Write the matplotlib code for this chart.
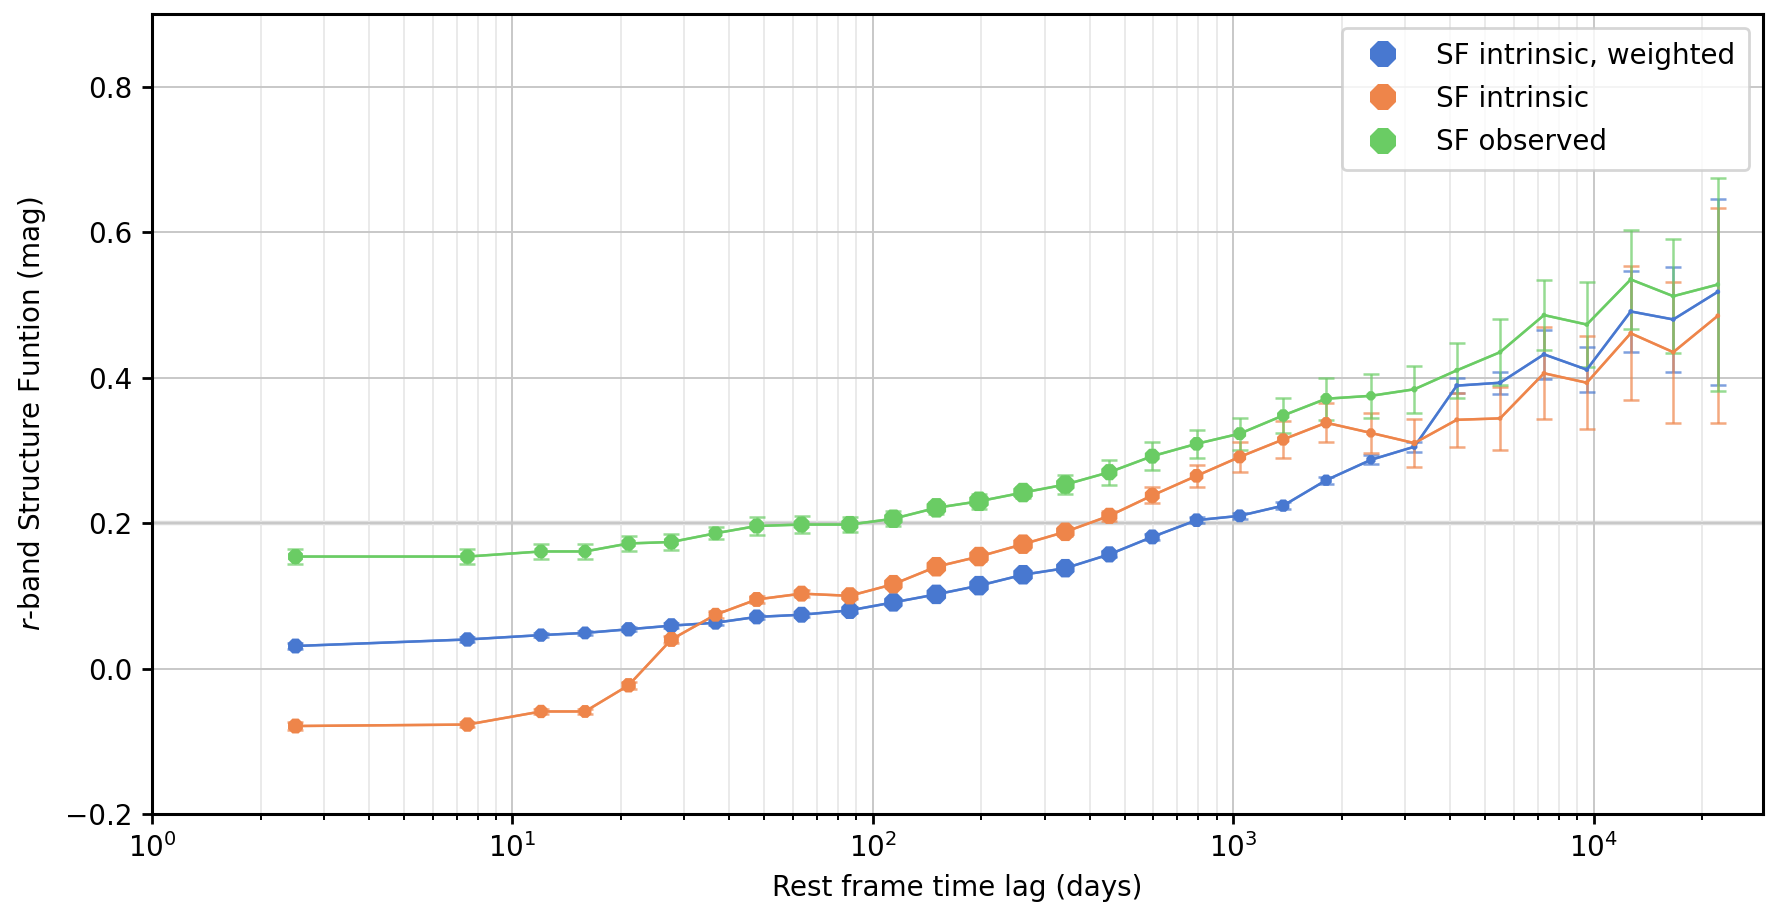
import matplotlib
matplotlib.use("Agg")
import matplotlib.pyplot as plt
from matplotlib.lines import Line2D

# rest-frame lag bins (days)
lag = [2.5, 7.5, 12.0, 15.9, 21.0, 27.6, 36.6, 47.6, 63.4, 86.3,
       114, 150, 197, 261, 342, 453, 596, 791, 1042, 1376,
       1810, 2410, 3180, 4170, 5500, 7280, 9570, 12670, 16630, 22100]

sf_weighted = [0.031, 0.040, 0.046, 0.049, 0.054, 0.059, 0.063, 0.071, 0.074, 0.080,
               0.091, 0.102, 0.114, 0.129, 0.138, 0.157, 0.181, 0.204, 0.210, 0.224,
               0.259, 0.287, 0.305, 0.389, 0.393, 0.432, 0.411, 0.491, 0.480, 0.518]
err_weighted = [0.004, 0.003, 0.003, 0.003, 0.003, 0.003, 0.003, 0.003, 0.003, 0.004,
                0.004, 0.004, 0.004, 0.004, 0.004, 0.004, 0.004, 0.004, 0.004, 0.005,
                0.005, 0.006, 0.007, 0.010, 0.015, 0.034, 0.031, 0.056, 0.072, 0.128]

sf_intrinsic = [-0.079, -0.077, -0.059, -0.059, -0.023, 0.040, 0.074, 0.095, 0.103, 0.100,
                0.116, 0.140, 0.154, 0.171, 0.188, 0.210, 0.238, 0.265, 0.291, 0.315,
                0.338, 0.324, 0.310, 0.342, 0.344, 0.406, 0.393, 0.461, 0.435, 0.485]
err_intrinsic = [0.005, 0.004, 0.004, 0.004, 0.005, 0.005, 0.005, 0.005, 0.005, 0.005,
                 0.005, 0.005, 0.006, 0.006, 0.006, 0.007, 0.011, 0.015, 0.021, 0.025,
                 0.027, 0.028, 0.033, 0.037, 0.043, 0.063, 0.064, 0.092, 0.097, 0.148]

sf_observed = [0.154, 0.154, 0.161, 0.161, 0.172, 0.174, 0.186, 0.196, 0.198, 0.198,
               0.206, 0.221, 0.230, 0.242, 0.253, 0.270, 0.292, 0.309, 0.323, 0.348,
               0.371, 0.375, 0.384, 0.410, 0.435, 0.486, 0.473, 0.535, 0.512, 0.528]
err_observed = [0.010, 0.010, 0.010, 0.010, 0.010, 0.011, 0.008, 0.013, 0.012, 0.010,
                0.010, 0.008, 0.010, 0.008, 0.013, 0.017, 0.019, 0.019, 0.022, 0.024,
                0.029, 0.030, 0.032, 0.038, 0.045, 0.048, 0.059, 0.068, 0.078, 0.146]

# marker diameter per bin (points), shrinks where few pairs
marker_pt = [5.8, 5.6, 5.2, 5.0, 5.6, 5.8, 5.4, 5.8, 6.2, 6.7,
             7.2, 7.6, 7.6, 7.6, 7.2, 6.3, 5.8, 5.3, 5.0, 4.8,
             4.4, 3.6, 2.4, 1.9, 1.8, 1.8, 1.8, 1.8, 1.8, 1.8]

series = [
    ("SF intrinsic, weighted", sf_weighted, err_weighted, "#4878d0"),
    ("SF intrinsic", sf_intrinsic, err_intrinsic, "#ee854a"),
    ("SF observed", sf_observed, err_observed, "#6acc64"),
]

plt.rcParams["font.size"] = 10
fig = plt.figure(figsize=(8.83, 4.54), dpi=200)
ax = fig.add_axes([0.0861, 0.1035, 0.9122, 0.8811])

sizes = [m ** 2 for m in marker_pt]
handles = []
for label, y, err, col in series:
    ax.errorbar(lag, y, yerr=err, color=col, lw=0.9, elinewidth=0.9,
                capsize=2.8, capthick=0.9, alpha=0.7, zorder=2)
    ax.plot(lag, y, color=col, lw=0.9, zorder=3)
    ax.scatter(lag, y, s=sizes, marker="8", color=col, edgecolors="none", zorder=4)
    handles.append(Line2D([], [], marker="8", ls="none", color=col,
                          markersize=10, markeredgewidth=0, label=label))

ax.set_xscale("log")
ax.set_xlim(1, 2.95e4)
ax.set_ylim(-0.2, 0.9)
ax.set_yticks([-0.2, 0.0, 0.2, 0.4, 0.6, 0.8])

ax.set_axisbelow(True)
ax.grid(True, which="major", color="#c8c8c8", lw=0.7)
ax.grid(True, which="minor", axis="x", color="#e6e6e6", lw=0.6)
ax.axhline(0.2, color="#dcdcdc", lw=1.6, zorder=0.5)

for sp in ax.spines.values():
    sp.set_color("black")
    sp.set_linewidth(1.1)
ax.tick_params(which="major", direction="out", length=3.5, width=1.0)
ax.tick_params(which="minor", direction="out", length=2.0, width=0.7)

ax.set_xlabel("Rest frame time lag (days)")
ax.set_ylabel("$r$-band Structure Funtion (mag)", labelpad=6)

ax.legend(handles=handles, loc="upper right", fontsize=10, framealpha=0.8,
          handletextpad=0.9, borderpad=0.5, labelspacing=0.55)

fig.savefig("out.png", dpi=200)
